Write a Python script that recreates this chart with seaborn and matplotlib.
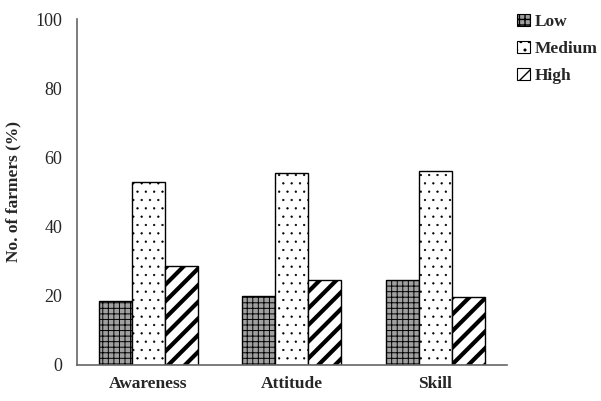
import pandas as pd
import numpy as np
import matplotlib
matplotlib.use("Agg")
import matplotlib.pyplot as plt
import matplotlib.patches as mpatches
import seaborn as sns

# data
categories = ["Awareness", "Attitude", "Skill"]
levels = ["Low", "Medium", "High"]
low = [18.5, 20.0, 24.5]
medium = [53.0, 55.5, 56.0]
high = [28.5, 24.5, 19.5]

df = pd.DataFrame({
    "category": categories * 3,
    "level": ["Low"] * 3 + ["Medium"] * 3 + ["High"] * 3,
    "value": low + medium + high,
})

sns.set_style("white")
plt.rcParams["font.family"] = ["Liberation Serif", "DejaVu Serif"]

fig = plt.figure(figsize=(6.01, 4.01), dpi=100)
ax = fig.add_axes([0.1273, 0.0905, 0.7163, 0.862])

sns.barplot(data=df, x="category", y="value", hue="level", hue_order=levels,
            order=categories, ax=ax, width=0.69, gap=0, saturation=1,
            palette=["#9a9a9a", "white", "white"], edgecolor="black",
            linewidth=1.0, errorbar=None, legend=False)

# fill, hatch, hatch line width per level
styles = {"Low": ("#a0a0a0", "+++", 0.7),
          "Medium": ("white", "..", 0.4),
          "High": ("white", "//", 3.0)}
for cont, lev in zip(ax.containers, levels):
    fc, h, hlw = styles[lev]
    for bar in cont:
        bar.set_facecolor(fc)
        bar.set_hatch(h)
        bar.set_hatch_linewidth(hlw)
        bar.set_edgecolor("black")

ax.set_xlim(-0.5, 2.5)
ax.set_ylim(0, 100)
ax.set_yticks([0, 20, 40, 60, 80, 100])
ax.set_yticklabels(["0", "20", "40", "60", "80", "100"], fontsize=13)
ax.set_xticks([-0.5, 0.5, 1.5, 2.5])
ax.set_xticklabels([])
ax.set_xticks([0, 1, 2], minor=True)
ax.set_xticklabels(categories, minor=True, fontsize=12.5, fontweight="bold")
ax.tick_params(axis="x", which="minor", length=0, pad=8)
ax.tick_params(axis="x", which="major", direction="out", length=5, color="#555555")
ax.tick_params(axis="y", direction="out", length=6, color="#555555", pad=4)
ax.set_xlabel("")
ax.set_ylabel("No. of farmers (%)", fontsize=12.5, fontweight="bold", labelpad=10)

sns.despine(ax=ax)
for s in ["left", "bottom"]:
    ax.spines[s].set_color("#666666")
    ax.spines[s].set_linewidth(1.2)

handles = []
for lev in levels:
    fc, h, hlw = styles[lev]
    p = mpatches.Patch(facecolor=fc, edgecolor="black", hatch=h, linewidth=0.8)
    p.set_hatch_linewidth(hlw)
    handles.append(p)
ax.legend(handles, levels, loc="upper left", bbox_to_anchor=(1.008, 1.035),
          frameon=False, prop={"weight": "bold", "size": 12.5},
          handlelength=0.7, handleheight=0.7, handletextpad=0.3,
          labelspacing=0.62, borderaxespad=0)

fig.savefig("out.png", dpi=100)
